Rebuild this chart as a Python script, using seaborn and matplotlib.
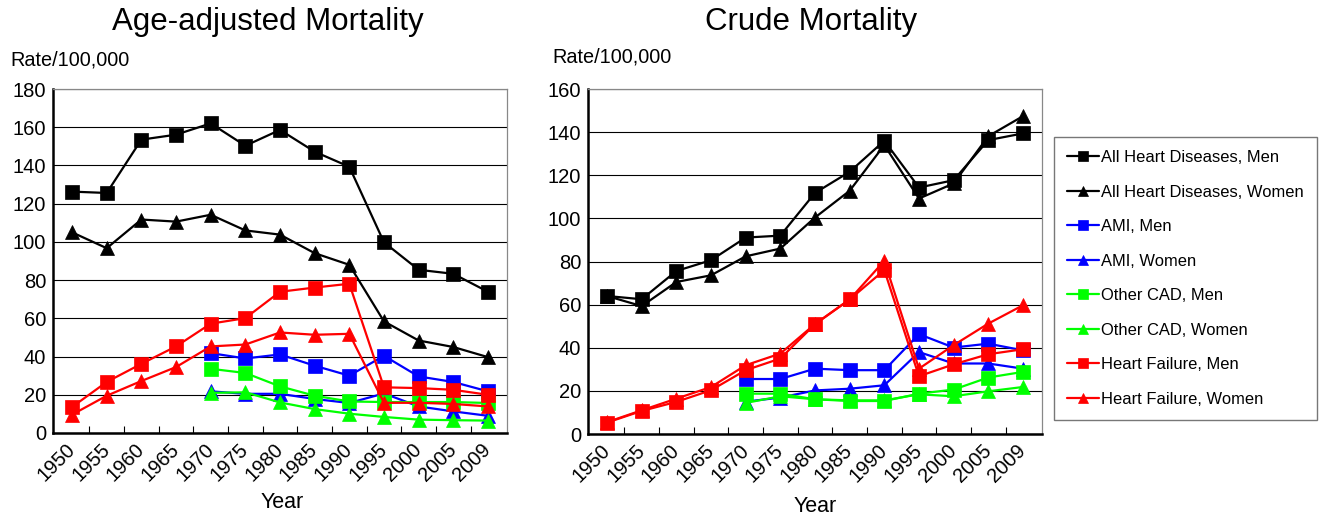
import matplotlib
matplotlib.use("Agg")
import matplotlib.pyplot as plt
import seaborn as sns

years = ['1950', '1955', '1960', '1965', '1970', '1975', '1980', '1985',
         '1990', '1995', '2000', '2005', '2009']
years_late = years[4:]

# Age-adjusted mortality (rate / 100,000)
aa_all_men = [126.3, 125.6, 153.5, 156.1, 162.0, 150.3, 158.6, 147.2, 139.3, 99.8, 85.4, 83.3, 73.9]
aa_all_women = [105.0, 96.7, 111.7, 110.6, 114.2, 106.0, 103.8, 94.1, 88.0, 58.4, 48.4, 45.0, 39.7]
aa_ami_men = [41.8, 39.0, 41.1, 35.2, 30.0, 40.4, 29.6, 26.7, 21.8]
aa_ami_women = [21.8, 20.5, 20.5, 17.8, 15.7, 20.7, 13.9, 11.3, 9.0]
aa_cad_men = [33.6, 31.4, 24.4, 19.5, 16.5, 16.2, 16.2, 16.2, 15.7]
aa_cad_women = [21.0, 21.3, 16.0, 12.5, 10.1, 8.4, 7.0, 6.7, 6.5]
aa_hf_men = [13.6, 26.7, 36.2, 45.3, 57.2, 60.1, 73.9, 76.1, 78.1, 23.9, 23.5, 22.6, 20.0]
aa_hf_women = [9.6, 19.5, 27.2, 34.5, 45.3, 46.3, 52.6, 51.4, 51.9, 15.8, 15.8, 15.2, 13.9]

# Crude mortality (rate / 100,000)
cr_all_men = [64.0, 62.5, 75.6, 80.6, 91.1, 92.0, 111.8, 121.6, 136.0, 114.3, 117.7, 136.3, 139.4]
cr_all_women = [64.0, 59.3, 70.5, 73.6, 82.4, 86.0, 100.4, 112.8, 134.0, 109.2, 116.2, 138.1, 147.4]
cr_ami_men = [25.5, 25.5, 30.3, 29.6, 29.6, 46.3, 40.1, 41.9, 38.8]
cr_ami_women = [15.0, 16.9, 20.2, 21.0, 22.6, 38.0, 32.7, 32.7, 30.3]
cr_cad_men = [18.7, 18.7, 16.1, 15.3, 15.3, 18.7, 20.6, 26.2, 28.8]
cr_cad_women = [14.4, 17.5, 16.1, 15.6, 15.6, 18.4, 17.5, 19.8, 21.8]
cr_hf_men = [5.3, 10.7, 14.9, 20.3, 29.6, 35.0, 50.9, 62.4, 76.0, 26.8, 32.3, 37.0, 39.3]
cr_hf_women = [5.5, 11.0, 16.4, 21.8, 31.9, 37.3, 51.0, 62.4, 80.3, 30.3, 41.2, 51.2, 59.7]

labels = ['All Heart Diseases, Men', 'All Heart Diseases, Women',
          'AMI, Men', 'AMI, Women',
          'Other CAD, Men', 'Other CAD, Women',
          'Heart Failure, Men', 'Heart Failure, Women']
colors = ['#000000', '#000000', '#0000FF', '#0000FF',
          '#00FF00', '#00FF00', '#FF0000', '#FF0000']
markers = ['s', '^', 's', '^', 's', '^', 's', '^']

aa_series = [(years, aa_all_men), (years, aa_all_women),
             (years_late, aa_ami_men), (years_late, aa_ami_women),
             (years_late, aa_cad_men), (years_late, aa_cad_women),
             (years, aa_hf_men), (years, aa_hf_women)]
cr_series = [(years, cr_all_men), (years, cr_all_women),
             (years_late, cr_ami_men), (years_late, cr_ami_women),
             (years_late, cr_cad_men), (years_late, cr_cad_women),
             (years, cr_hf_men), (years, cr_hf_women)]

sns.set_theme(style='white')
plt.rcParams['font.family'] = ['Liberation Sans', 'DejaVu Sans']
plt.rcParams['text.color'] = 'black'
plt.rcParams['xtick.color'] = 'black'
plt.rcParams['ytick.color'] = 'black'
plt.rcParams['xtick.labelcolor'] = 'black'
plt.rcParams['ytick.labelcolor'] = 'black'

fig = plt.figure(figsize=(13.23, 5.16), dpi=100)
ax1 = fig.add_axes([53 / 1323, (516 - 433) / 516, 454 / 1323, 344 / 516])
ax2 = fig.add_axes([588 / 1323, (516 - 434) / 516, 454 / 1323, 345 / 516])


def draw(ax, series, ymax):
    for (xs, ys), lab, col, mk in zip(series, labels, colors, markers):
        sns.lineplot(x=xs, y=ys, ax=ax, color=col, marker=mk, markersize=9.5,
                     markeredgecolor=col, markeredgewidth=0.5, linewidth=1.6,
                     label=lab)
    ax.set_xlim(-0.55, len(years) - 0.45)
    ax.set_ylim(0, ymax)
    ax.set_yticks(range(0, ymax + 1, 20))
    ax.set_xticks(range(len(years)))
    ax.set_xticklabels(years, rotation=45, ha='right', va='center',
                       rotation_mode='anchor', fontsize=14.5)
    ax.set_xticks([i + 0.5 for i in range(len(years) - 1)], minor=True)
    ax.tick_params(axis='x', which='major', length=0, pad=10)
    ax.tick_params(axis='x', which='minor', direction='in', length=5,
                   width=0.8, color='black', bottom=True)
    ax.tick_params(axis='y', length=0, pad=5, labelsize=14.5, labelcolor='black')
    ax.yaxis.grid(True, color='black', linewidth=0.8)
    ax.set_axisbelow(True)
    for s in ['left', 'bottom']:
        ax.spines[s].set_color('black')
        ax.spines[s].set_linewidth(1.8)
    for s in ['top', 'right']:
        ax.spines[s].set_color('#888888')
        ax.spines[s].set_linewidth(0.9)
    ax.set_xlabel('')
    ax.set_ylabel('')
    ax.get_legend().remove()


draw(ax1, aa_series, 180)
draw(ax2, cr_series, 160)

handles, labs = ax1.get_legend_handles_labels()
fig.legend(handles, labs, loc='upper left', bbox_to_anchor=(1054 / 1323, 1 - 137 / 516),
           frameon=True, fancybox=False, edgecolor='#555555', fontsize=11.9,
           handlelength=1.9, handletextpad=0.15, labelspacing=1.18,
           borderpad=0.8, markerscale=0.75, borderaxespad=0)

fig.text(268 / 1323, 1 - 22 / 516, 'Age-adjusted Mortality', ha='center', va='center', fontsize=22.5)
fig.text(811 / 1323, 1 - 22 / 516, 'Crude Mortality', ha='center', va='center', fontsize=22.5)
fig.text(10 / 1323, 1 - 60 / 516, 'Rate/100,000', ha='left', va='center', fontsize=14.3)
fig.text(552 / 1323, 1 - 57 / 516, 'Rate/100,000', ha='left', va='center', fontsize=14.3)
fig.text(282 / 1323, 1 - 502 / 516, 'Year', ha='center', va='center', fontsize=15.5)
fig.text(815 / 1323, 1 - 506 / 516, 'Year', ha='center', va='center', fontsize=15.5)

fig.savefig('out.png', dpi=100)
